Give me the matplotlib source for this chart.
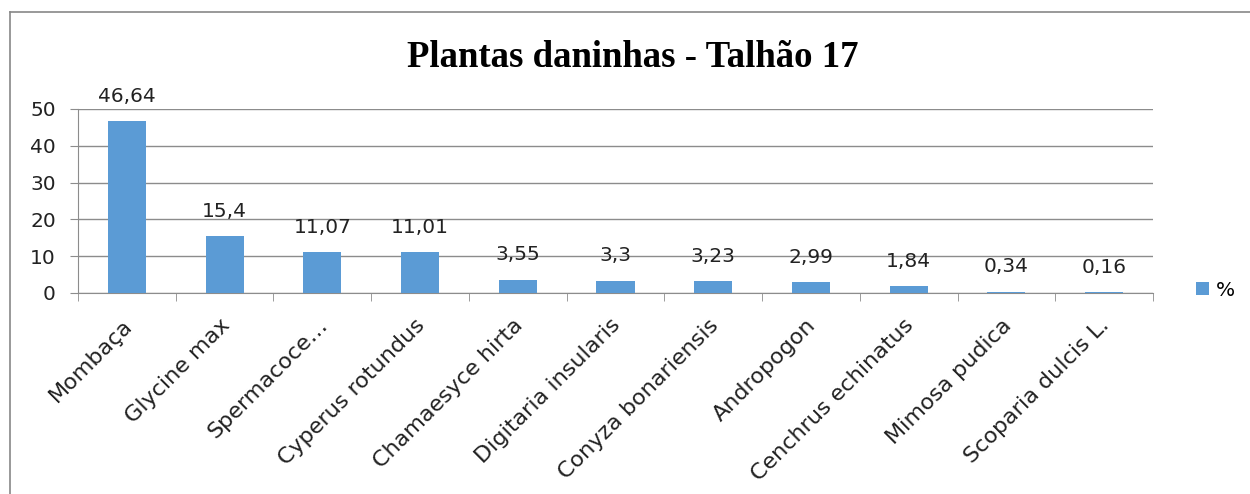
import matplotlib.pyplot as plt
from matplotlib.lines import Line2D
import numpy as np

species = ["Mombaça", "Glycine max", "Spermacoce…", "Cyperus rotundus",
           "Chamaesyce hirta", "Digitaria insularis", "Conyza bonariensis",
           "Andropogon", "Cenchrus echinatus", "Mimosa pudica", "Scoparia dulcis L."]
percent = [46.64, 15.4, 11.07, 11.01, 3.55, 3.3, 3.23, 2.99, 1.84, 0.34, 0.16]
value_labels = ["46,64", "15,4", "11,07", "11,01", "3,55", "3,3", "3,23", "2,99", "1,84", "0,34", "0,16"]

bar_color = "#5B9BD5"
grid_color = "#8C8C8C"
lab_font = "DejaVu Sans"
fs = 14.5

fig = plt.figure(figsize=(12.5, 4.94), dpi=100)
W, H = 1250, 494
ax = fig.add_axes([78 / W, 1 - 293 / H, (1153 - 78) / W, (293 - 109) / H])

x = np.arange(len(species))
ax.bar(x, percent, width=0.39, color=bar_color, zorder=3, label="%")
ax.set_xlim(-0.5, len(species) - 0.5)
ax.set_ylim(0, 50)
ax.set_yticks(range(0, 51, 10))
ax.yaxis.grid(True, color=grid_color, linewidth=1)
ax.set_axisbelow(True)

for s in ["top", "right"]:
    ax.spines[s].set_visible(False)
ax.spines["left"].set_color(grid_color)
ax.spines["bottom"].set_color(grid_color)

ax.tick_params(axis="y", length=6, color=grid_color, labelsize=fs, pad=10, labelcolor="#222222")
for t in ax.get_yticklabels():
    t.set_fontfamily(lab_font)

# tick marks between categories, labels at centers
ax.set_xticks(np.arange(-0.5, len(species), 1), minor=True)
ax.set_xticks(x)
ax.set_xticklabels([])
ax.tick_params(axis="x", which="minor", length=6, color=grid_color)
ax.tick_params(axis="x", which="major", length=0)

for i, name in enumerate(species):
    ax.annotate(name, (i, 0), xytext=(1.5, -21), textcoords="offset points",
                rotation=45, rotation_mode="anchor", ha="right", va="center",
                fontsize=16, fontfamily=lab_font, color="#222222", annotation_clip=False)

for i, (v, lab) in enumerate(zip(percent, value_labels)):
    ax.annotate(lab, (i, v), xytext=(0, 14), textcoords="offset points",
                ha="center", va="baseline", fontsize=fs, fontfamily=lab_font, color="#222222")

ax.legend(loc="center left", bbox_to_anchor=(1196 / W, 1 - 290 / H),
          bbox_transform=fig.transFigure, frameon=False, borderpad=0, borderaxespad=0,
          prop={"family": lab_font, "size": fs},
          handlelength=0.65, handleheight=0.65, handletextpad=0.35)

fig.text(633 / W, 1 - 67 / H, "Plantas daninhas - Talhão 17", ha="center", va="baseline",
         fontsize=26.5, fontweight="bold", fontfamily="Liberation Serif")

# chart border (top and left edges visible in the crop)
fig.add_artist(Line2D([10 / W, 1], [1 - 12 / H, 1 - 12 / H], color="#888888", lw=1.2,
                      transform=fig.transFigure))
fig.add_artist(Line2D([10 / W, 10 / W], [0, 1 - 12 / H], color="#888888", lw=1.2,
                      transform=fig.transFigure))

fig.savefig("out.png", dpi=100)
